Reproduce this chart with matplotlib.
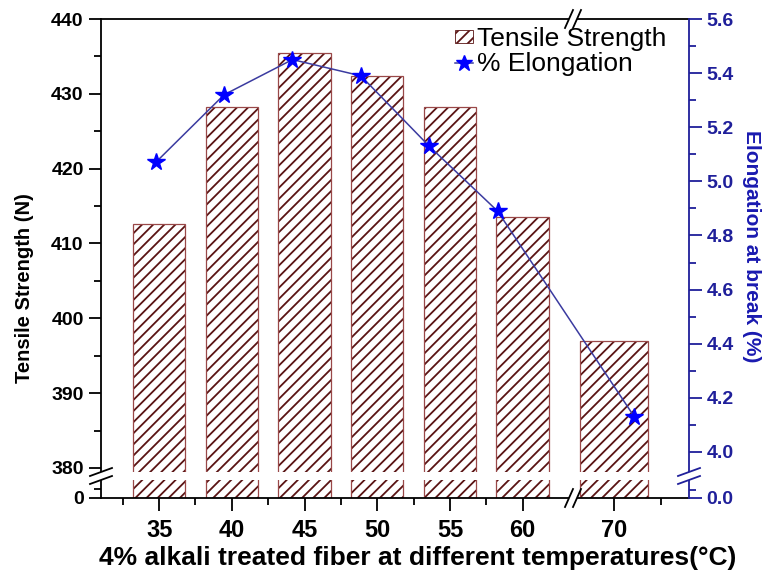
import numpy as np
import matplotlib
matplotlib.use("Agg")
from matplotlib import pyplot as plt
from matplotlib.patches import Rectangle, Patch
from matplotlib.lines import Line2D

plt.rcParams['font.family'] = ['Liberation Sans', 'DejaVu Sans']
plt.rcParams['hatch.linewidth'] = 1.3
plt.rcParams['hatch.color'] = '#5a1414'

# data
temps = [35, 40, 45, 50, 55, 60, 70]
strength = [412.6, 428.2, 435.4, 432.4, 428.3, 413.5, 397.0]
elongation = [5.07, 5.32, 5.45, 5.39, 5.13, 4.89, 4.13]
strength_ticks = [0, 380, 390, 400, 410, 420, 430, 440]
elong_ticks = [0.0, 4.0, 4.2, 4.4, 4.6, 4.8, 5.0, 5.2, 5.4, 5.6]


def piecewise(xp, fp):
    xp = np.asarray(xp, float)
    fp = np.asarray(fp, float)
    return (lambda v: np.interp(v, xp, fp)), (lambda v: np.interp(v, fp, xp))


W, H = 769, 582
L, R, T, B = 101, 689, 19, 498
fig = plt.figure(figsize=(W / 100, H / 100), dpi=100)
rect = [L / W, 1 - B / H, (R - L) / W, (B - T) / H]

ax = fig.add_axes(rect)
# broken x axis (break between 60 and 70), broken y axis (break below 380)
ax.set_xscale('function', functions=piecewise([31, 63.4, 67.8, 74], [0, 471, 471.5, 588]))
ax.set_yscale('function', functions=piecewise([0, 378.93, 440], [0, 22, 479]))
ax.set_xlim(31, 74)
ax.set_ylim(0, 440)

hatch_col = '#5a1414'
edge_col = '#9a4848'
ax.bar(temps, strength, width=3.6, facecolor='white', edgecolor=hatch_col,
       hatch='///', linewidth=0, zorder=2)
ax.bar(temps, strength, width=3.6, fill=False, edgecolor=edge_col,
       linewidth=0.9, zorder=2.1)

blue = '#1f1f9a'
line_col = '#3b3ba0'
ax2 = fig.add_axes(rect)
ax2.patch.set_visible(False)
ax2.set_xlim(31, 74)
ax2.set_yscale('function', functions=piecewise([0, 3.911, 5.6], [0, 22, 479]))
ax2.set_ylim(0, 5.6)
ax2.plot(temps, elongation, color=line_col, lw=1.1, marker='*', ms=13,
         mfc='#0000ff', mec='#0000ff', zorder=5)

# spines
for s in ['left', 'top', 'bottom']:
    ax2.spines[s].set_visible(False)
ax.spines['right'].set_visible(False)
for s in ['left', 'top', 'bottom']:
    ax.spines[s].set_linewidth(1.3)
ax2.spines['right'].set_color(blue)
ax2.spines['right'].set_linewidth(1.3)

# ticks
ax.set_xticks([35, 40, 45, 50, 55, 60, 70])
ax.set_xticks([32.5, 37.5, 42.5, 47.5, 52.5, 57.5, 72.5], minor=True)
ax.set_yticks(strength_ticks)
ax.set_yticks([150, 385, 395, 405, 415, 425, 435], minor=True)
ax.tick_params(which='major', direction='out', length=9, width=1.3, labelsize=14)
ax.tick_params(which='minor', direction='out', length=5, width=1.3)
ax.tick_params(axis='x', labelsize=17, pad=6)
ax.tick_params(top=False, right=False, which='both')
for lab in ax.get_xticklabels() + ax.get_yticklabels():
    lab.set_fontweight('bold')

ax2.xaxis.set_visible(False)
ax2.yaxis.tick_right()
ax2.set_yticks(elong_ticks)
ax2.set_yticklabels(['%.1f' % v for v in elong_ticks])
ax2.set_yticks([1.5, 4.1, 4.3, 4.5, 4.7, 4.9, 5.1, 5.3, 5.5], minor=True)
ax2.tick_params(which='major', direction='out', length=9, width=1.3, labelsize=14,
                colors=blue)
ax2.tick_params(which='minor', direction='out', length=5, width=1.3, colors=blue)
for lab in ax2.get_yticklabels():
    lab.set_fontweight('bold')

# white gap through the bars at the y break
yb0, yb1 = (B - 480) / (B - T), (B - 472) / (B - T)
ax2.add_patch(Rectangle((-0.01, yb0), 1.02, yb1 - yb0, transform=ax2.transAxes,
                        facecolor='white', edgecolor='none', zorder=10, clip_on=False))
ybm = (yb0 + yb1) / 2
dx, dy = 11 / (R - L), 4 / (B - T)
for xs, col in [(0.0, 'black'), (1.0, blue)]:
    for off in (-4 / (B - T), 4 / (B - T)):
        ax2.add_line(Line2D([xs - dx, xs + dx], [ybm + off - dy, ybm + off + dy],
                            transform=ax2.transAxes, color=col, lw=1.3,
                            clip_on=False, zorder=11))

# x break marks on top and bottom spines
xbm = (573 - L) / (R - L)
gx = 4 / (R - L)
for ys in (0.0, 1.0):
    ax2.add_patch(Rectangle((xbm - gx, ys - 3 / (B - T)), 2 * gx, 6 / (B - T),
                            transform=ax2.transAxes, facecolor='white',
                            edgecolor='none', zorder=10, clip_on=False))
    for off in (-gx, gx):
        ax2.add_line(Line2D([xbm + off - 4 / (R - L), xbm + off + 4 / (R - L)],
                            [ys - 9 / (B - T), ys + 9 / (B - T)],
                            transform=ax2.transAxes, color='black', lw=1.3,
                            clip_on=False, zorder=11))

# labels
fig.text(25 / W, 1 - 288 / H, 'Tensile Strength (N)', rotation=90, ha='center',
         va='center', fontsize=14.5, fontweight='bold')
fig.text(752 / W, 1 - 246 / H, 'Elongation at break (%)', rotation=-90, ha='center',
         va='center', fontsize=15, fontweight='bold', color='#1a1ab0')
fig.text(418 / W, 1 - 558 / H, '4% alkali treated fiber at different temperatures(°C)',
         ha='center', va='center', fontsize=19, fontweight='bold')

handles = [Patch(facecolor='white', edgecolor=hatch_col, hatch='///', linewidth=0.6),
           Line2D([], [], color=line_col, lw=1.1, marker='*', ms=12,
                  mfc='#0000ff', mec='#0000ff')]
leg = ax2.legend(handles, ['Tensile Strength', '% Elongation'], loc='upper left',
                 bbox_to_anchor=((455 - L) / (R - L), 1 - 8 / (B - T)), frameon=False,
                 fontsize=19, handlelength=0.7, handleheight=0.35, handletextpad=0.15,
                 labelspacing=0.05, borderaxespad=0.0, borderpad=0.0)
leg.set_zorder(20)

fig.savefig('out.png', dpi=100)
